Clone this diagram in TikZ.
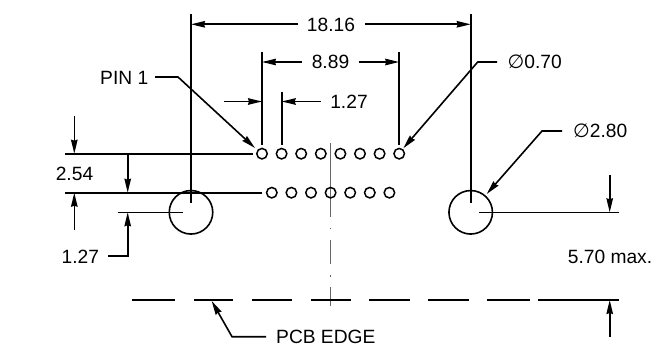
\documentclass[tikz,border=0pt]{standalone}
\usepackage{fontspec}
\setmainfont{Liberation Sans}
\newfontfamily\symfont{DejaVu Sans ExtraLight}
\usetikzlibrary{arrows.meta}
\tikzset{
  dimline/.style={line width=1.6pt,black},
  arrowline/.style={line width=1.6pt,black,-{Stealth[length=14pt,width=6.5pt,inset=1pt]},shorten >=0pt},
  pinhole/.style={circle,draw,line width=1.5pt,minimum size=10.5pt,inner sep=0pt},
  mounthole/.style={circle,draw,line width=1.6pt,minimum size=43.5pt,inner sep=0pt},
  centerline/.style={line width=1.3pt,black!60},
  dimtext/.style={inner sep=0pt,font=\fontsize{19.2}{21}\selectfont,text=black}
}
\begin{document}
\begin{tikzpicture}[x=1pt,y=-1pt]
\useasboundingbox (0,0) rectangle (663,350);
% centre line
\coordinate (c1) at (330.7,143); \coordinate (c2) at (330.7,217);
\coordinate (c3) at (330.7,227.5); \coordinate (c4) at (330.7,229);
\coordinate (c5) at (330.7,240); \coordinate (c6) at (330.7,264);
\coordinate (c7) at (330.7,275); \coordinate (c8) at (330.7,276.5);
\coordinate (c9) at (330.7,287); \coordinate (c10) at (330.7,306);
\draw[centerline] (c1)--(c2) (c3)--(c4) (c5)--(c6) (c7)--(c8) (c9)--(c10);
% holes
\foreach \i/\x in {1/262,2/281.6,3/301.2,4/320.8,5/340.4,6/360,7/379.6,8/399.2}
  \node[pinhole] (t\i) at (\x,153.7) {};
\foreach \i/\x in {1/271.8,2/291.4,3/311,4/330.6,5/350.2,6/369.8,7/389.4}
  \node[pinhole] (b\i) at (\x,192.7) {};
\node[mounthole] (ml) at (191,212.3) {};
\node[mounthole] (mr) at (470.7,212.3) {};
% 18.16
\node[dimtext] (d1816) at (331,24.5) {18.16};
\coordinate (la) at (191,14.5); \coordinate (lb) at (191,203);
\coordinate (ra) at (470.7,14.5); \coordinate (rb) at (470.7,203);
\draw[dimline] (la)--(lb) (ra)--(rb);
\coordinate (lt) at (191,24.3); \coordinate (rt) at (470.7,24.3);
\coordinate (ls) at (298,24.3); \coordinate (rs) at (365,24.3);
\draw[arrowline] (ls)--(lt); \draw[arrowline] (rs)--(rt);
% 8.89
\node[dimtext] (d889) at (330.5,62) {8.89};
\coordinate (p1a) at (262,52); \coordinate (p1b) at (262,145);
\coordinate (p8a) at (399.2,52); \coordinate (p8b) at (399.2,145);
\draw[dimline] (p1a)--(p1b) (p8a)--(p8b);
\coordinate (a1) at (301.7,62); \coordinate (a2) at (262,62);
\coordinate (a3) at (359,62); \coordinate (a4) at (399.2,62);
\draw[arrowline] (a1)--(a2); \draw[arrowline] (a3)--(a4);
% 1.27 top
\node[dimtext] (d127) at (349,101.5) {1.27};
\coordinate (p2a) at (281.7,92); \coordinate (p2b) at (281.7,145);
\draw[dimline] (p2a)--(p2b);
\coordinate (b1s) at (224,101.5); \coordinate (b1e) at (262,101.5);
\coordinate (b2s) at (320.7,101.5); \coordinate (b2e) at (281.7,101.5);
\draw[arrowline] (b1s)--(b1e); \draw[arrowline] (b2s)--(b2e);
% PIN 1
\node[dimtext,anchor=west] (pin) at (100,77.5) {PIN 1};
\coordinate (pa) at (155,77); \coordinate (pb) at (178,77); \coordinate (pc) at (255,148);
\draw[arrowline] (pa)--(pb)--(pc);
% diam 0.70
\node[dimtext,anchor=west] (d070) at (507.5,62) {{\fontspec{DejaVu Sans}∅}0.70};
\coordinate (qa) at (497,62); \coordinate (qb) at (477.7,62); \coordinate (qc) at (403.3,148.3);
\draw[arrowline] (qa)--(qb)--(qc);
% diam 2.80
\node[dimtext,anchor=west] (d280) at (573,131) {{\fontspec{DejaVu Sans}∅}2.80};
\coordinate (sa) at (562,131); \coordinate (sb) at (542,131); \coordinate (sc) at (486.7,194);
\draw[arrowline] (sa)--(sb)--(sc);
% left extension lines
\coordinate (e1) at (65,153.7); \coordinate (e2) at (253,153.7);
\coordinate (e3) at (65,192.7); \coordinate (e4) at (262,192.7);
\draw[dimline] (e1)--(e2) (e3)--(e4);
\coordinate (f1) at (74.3,116); \coordinate (f2) at (74.3,153.7);
\coordinate (f3) at (74.3,230); \coordinate (f4) at (74.3,192.7);
\draw[arrowline] (f1)--(f2); \draw[arrowline] (f3)--(f4);
\node[dimtext] (d254) at (74.5,173.5) {2.54};
\coordinate (g1) at (127.7,153.7); \coordinate (g2) at (127.7,192.7);
\draw[arrowline] (g1)--(g2);
% 1.27 lower
\coordinate (h1) at (117.7,212.3); \coordinate (h2) at (182.7,212.3);
\draw[dimline] (h1)--(h2);
\coordinate (k1) at (108,256); \coordinate (k2) at (127.7,256); \coordinate (k3) at (127.7,212.3);
\draw[arrowline] (k1)--(k2)--(k3);
\node[dimtext] (d127b) at (80.3,257) {1.27};
% right side
\coordinate (m1) at (479.3,212.3); \coordinate (m2) at (619,212.3);
\draw[dimline] (m1)--(m2);
\coordinate (n1) at (609.7,175); \coordinate (n2) at (609.7,212.3);
\draw[arrowline] (n1)--(n2);
\node[dimtext] (d570) at (610,257) {5.70 max.};
\coordinate (n3) at (609.7,337); \coordinate (n4) at (609.7,300);
\draw[arrowline] (n3)--(n4);
% PCB edge
\foreach \s/\e in {131.7/175,194/233,252/292,311/351,369/410,428/468.7,486.7/530,538/619}
  \draw[dimline] (\s,300)--(\e,300);
\node[dimtext,anchor=west] (pcb) at (276,337) {PCB EDGE};
\coordinate (u1) at (266,336.7); \coordinate (u2) at (232,336.7); \coordinate (u3) at (211.7,301);
\draw[arrowline] (u1)--(u2)--(u3);
\end{tikzpicture}
\end{document}
